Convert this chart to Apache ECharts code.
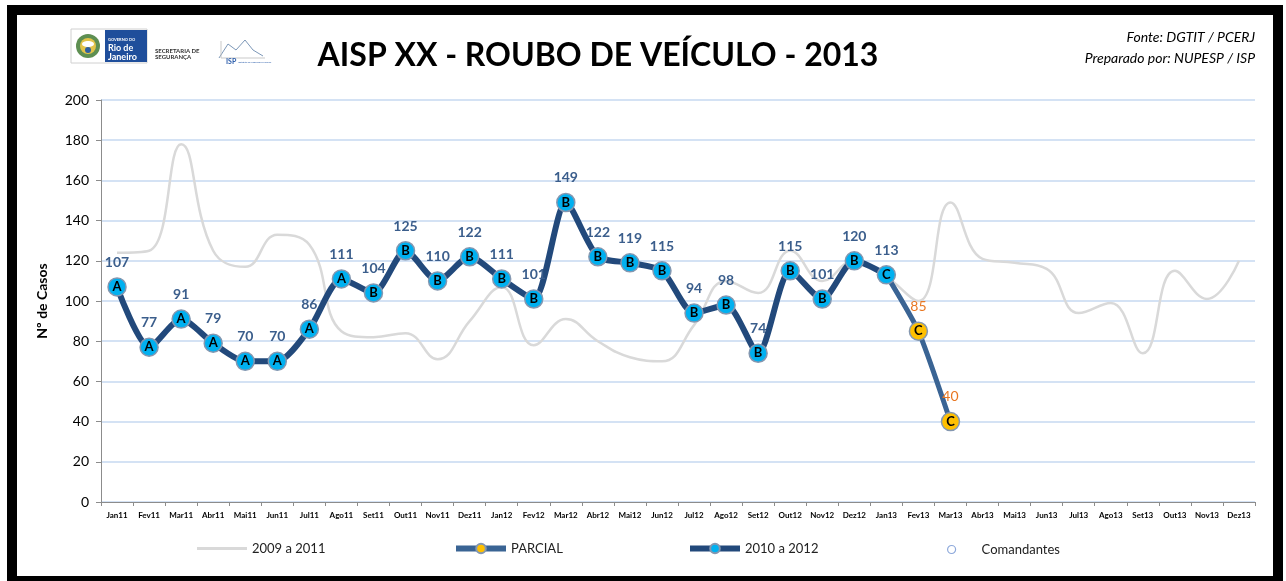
<!DOCTYPE html>
<html><head><meta charset="utf-8">
<script src="https://cdn.jsdelivr.net/npm/echarts@6/dist/echarts.min.js"></script>
<style>html,body{margin:0;padding:0;background:#fff}#c{width:1286px;height:581px}</style>
</head><body><div id="c"></div>
<script>
const categories = ['Jan11','Fev11','Mar11','Abr11','Mai11','Jun11','Jul11','Ago11','Set11','Out11','Nov11','Dez11',
  'Jan12','Fev12','Mar12','Abr12','Mai12','Jun12','Jul12','Ago12','Set12','Out12','Nov12','Dez12',
  'Jan13','Fev13','Mar13','Abr13','Mai13','Jun13','Jul13','Ago13','Set13','Out13','Nov13','Dez13'];
const values2009a2011 = [124,125,178,125,117,133,128,85,82,84,71,90,
  107,78,91,80,72,70,88,110,104,125,110,120,
  112,100,149,121,119,116,94,99,74,115,101,120];
const values2010a2012 = [107,77,91,79,70,70,86,111,104,125,110,122,
  111,101,149,122,119,115,94,98,74,115,101,120,113];
const parcialStart = 24; // Jan13
const valuesParcial = [113,85,40];
const commanders = ['A','A','A','A','A','A','A','A','B','B','B','B',
  'B','B','B','B','B','B','B','B','B','B','B','B','C','C','C'];
const yMin = 0, yMax = 200, yStep = 20;

const mainData = categories.map((c,i)=> i < values2010a2012.length ? values2010a2012[i] : null);
const parcialData = categories.map((c,i)=>{
  const k = i - parcialStart;
  if (k < 0 || k >= valuesParcial.length) return null;
  if (k === 0) return {value: valuesParcial[k], symbol:'none', label:{show:false}};
  return valuesParcial[k];
});
const allVals = values2010a2012.concat(valuesParcial.slice(1));
const cmdData = categories.map((c,i)=> i < commanders.length ? allVals[i] : null);

const F = 'Lato, "Open Sans", sans-serif';
const chart = echarts.init(document.getElementById('c'), null, {renderer:'canvas'});

const legendBase = {orient:'horizontal', top:537, itemWidth:50, itemHeight:12,
  textStyle:{fontFamily:F, fontSize:13, color:'#222'}, selectedMode:false};

chart.setOption({
  backgroundColor:'#fff',
  animation:false,
  grid:{left:101, right:31, top:100, bottom:79, containLabel:false},
  legend:[
    Object.assign({}, legendBase, {left:192, itemHeight:3, top:537,
      data:[{name:'2009 a 2011', icon:'rect', itemStyle:{color:'#D9D9D9'}}]}),
    Object.assign({}, legendBase, {left:448, lineStyle:{width:6}, data:['PARCIAL']}),
    Object.assign({}, legendBase, {left:682, lineStyle:{width:6}, data:['2010 a 2012']}),
    Object.assign({}, legendBase, {left:942, itemHeight:8, top:538, data:[{name:'Comandantes', icon:'circle',
      itemStyle:{color:'#fff', borderColor:'#8EA9DB', borderWidth:1.2}}]})
  ],
  xAxis:{type:'category', data:categories, boundaryGap:true,
    axisLine:{lineStyle:{color:'#8c8c8c', width:1}},
    axisTick:{show:true, length:4, lineStyle:{color:'#8c8c8c'}},
    axisLabel:{fontFamily:F, fontSize:8, fontWeight:'bold', color:'#000', margin:9, interval:0}},
  yAxis:{type:'value', min:yMin, max:yMax, interval:yStep,
    name:'Nº de Casos', nameLocation:'middle', nameGap:52,
    nameTextStyle:{fontFamily:F, fontSize:14, fontWeight:'bold', color:'#000'},
    axisLine:{show:true, lineStyle:{color:'#8c8c8c'}},
    axisTick:{show:true, length:5, lineStyle:{color:'#8c8c8c'}},
    axisLabel:{fontFamily:F, fontSize:14, color:'#000', margin:12},
    splitLine:{lineStyle:{color:'#C6D9F1', width:1.5}}},
  series:[
    {name:'2009 a 2011', type:'line', data:values2009a2011, smooth:0.45, symbol:'none', z:1,
      lineStyle:{color:'#D9D9D9', width:2.5}, itemStyle:{color:'#D9D9D9'}},
    {name:'PARCIAL', type:'line', data:parcialData, smooth:0.2, z:2,
      symbol:'circle', symbolSize:18,
      lineStyle:{color:'#3A6494', width:5},
      itemStyle:{color:'#FFC000', borderColor:'#8497B0', borderWidth:1.5},
      label:{show:true, position:'top', distance:8, fontFamily:F, fontSize:14, color:'#E87722'}},
    {name:'2010 a 2012', type:'line', data:mainData, smooth:0.25, z:3,
      symbol:'circle', symbolSize:18,
      lineStyle:{color:'#22497B', width:6},
      itemStyle:{color:'#00B0F0', borderColor:'#8497B0', borderWidth:1.5},
      label:{show:true, position:'top', distance:8, fontFamily:F, fontSize:14, fontWeight:'bold', color:'#3B5E8C'}},
    {name:'Comandantes', type:'line', data:cmdData, z:4,
      symbol:'circle', symbolSize:18, lineStyle:{width:0, opacity:0},
      itemStyle:{color:'rgba(0,0,0,0)', borderWidth:0},
      label:{show:true, position:'inside', fontFamily:F, fontSize:13, fontWeight:'bold', color:'#000',
        formatter:p=>commanders[p.dataIndex]}}
  ],
  graphic:[
    {type:'rect', shape:{x:12, y:10, width:1266, height:571}, style:{fill:'none', stroke:'#000', lineWidth:10}, z:100},
    {type:'text', x:598, y:56, style:{text:'AISP XX - ROUBO DE VEÍCULO - 2013', fontFamily:F, fontSize:32, fontWeight:'bold', fill:'#000', align:'center', verticalAlign:'middle'}},
    {type:'text', x:1255, y:37, style:{text:'Fonte: DGTIT / PCERJ', fontFamily:F, fontSize:14, fontStyle:'italic', fill:'#000', align:'right', verticalAlign:'middle'}},
    {type:'text', x:1255, y:58, style:{text:'Preparado por: NUPESP / ISP', fontFamily:F, fontSize:14, fontStyle:'italic', fill:'#000', align:'right', verticalAlign:'middle'}},
    // Governo do Rio logo
    {type:'rect', shape:{x:71, y:29, width:76, height:34}, style:{fill:'#fff', stroke:'#d0d0d0', lineWidth:1}},
    {type:'circle', shape:{cx:88, cy:46, r:12}, style:{fill:'#5E8F52'}},
    {type:'circle', shape:{cx:88, cy:46, r:8}, style:{fill:'#E3C44A'}},
    {type:'ellipse', shape:{cx:88, cy:44, rx:6, ry:3}, style:{fill:'#fff'}},
    {type:'circle', shape:{cx:88, cy:50, r:3}, style:{fill:'#2E5FA0'}},
    {type:'rect', shape:{x:105, y:30, width:42, height:32}, style:{fill:'#1F4E9B'}},
    {type:'text', x:108, y:40, style:{text:'GOVERNO DO', fontFamily:F, fontSize:4, fontWeight:'bold', fill:'#fff', verticalAlign:'middle'}},
    {type:'text', x:108, y:48, style:{text:'Rio de', fontFamily:F, fontSize:9, fontWeight:'bold', fill:'#fff', verticalAlign:'middle'}},
    {type:'text', x:108, y:57, style:{text:'Janeiro', fontFamily:F, fontSize:9, fontWeight:'bold', fill:'#fff', verticalAlign:'middle'}},
    {type:'text', x:155, y:51, style:{text:'SECRETARIA DE', fontFamily:F, fontSize:6, fontWeight:'bold', fill:'#333', verticalAlign:'middle'}},
    {type:'text', x:155, y:57, style:{text:'SEGURANÇA', fontFamily:F, fontSize:6, fontWeight:'bold', fill:'#333', verticalAlign:'middle'}},
    // ISP logo
    {type:'polyline', shape:{points:[[219,58],[228,44],[236,50],[245,40],[253,50],[263,56]]}, style:{stroke:'#7D98B8', lineWidth:1, fill:'none'}},
    {type:'polyline', shape:{points:[[221,41],[221,58],[265,58]]}, style:{stroke:'#bbb', lineWidth:0.8, fill:'none'}},
    {type:'text', x:226, y:62, style:{text:'ISP', fontFamily:F, fontSize:7, fontWeight:'bold', fill:'#2A5CAA', verticalAlign:'middle'}},
    {type:'text', x:238, y:62, style:{text:'Instituto de Segurança Pública', fontFamily:F, fontSize:2.5, fill:'#2A5CAA', verticalAlign:'middle'}}
  ]
});
</script></body></html>
